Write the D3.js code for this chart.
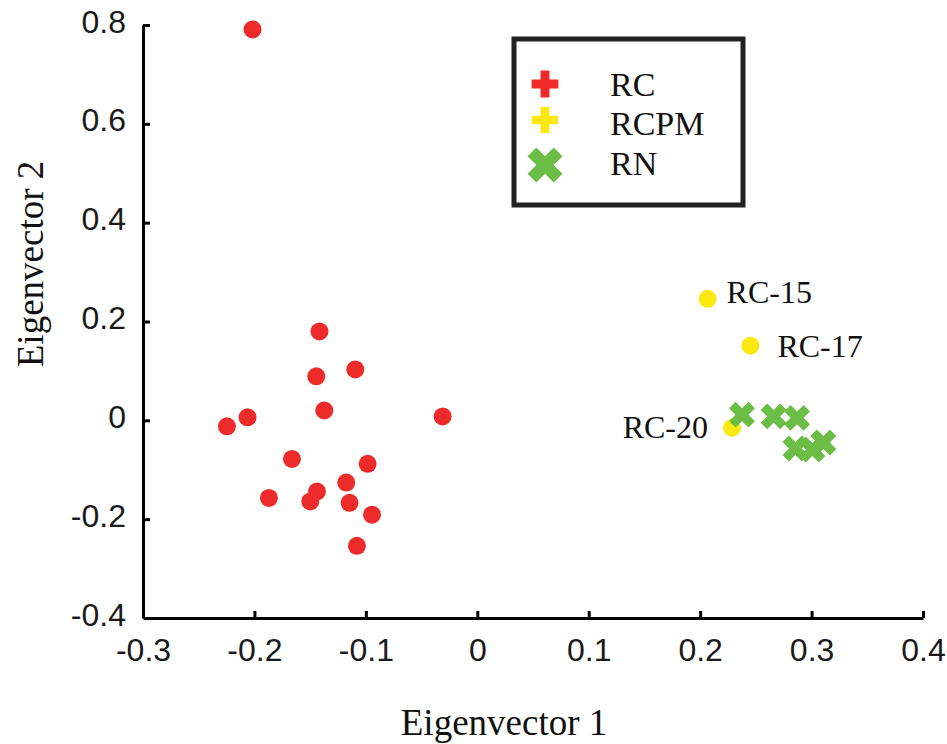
<!DOCTYPE html>
<html>
<head>
<meta charset="utf-8">
<script src="https://cdn.jsdelivr.net/npm/d3@7"></script>
<style>
  body { margin: 0; background: #fff; }
  .tick text { font-family: "Liberation Sans", Arial, sans-serif; font-size: 32px; fill: #1a1a1a; }
  .serif { font-family: "Liberation Serif", "Times New Roman", serif; fill: #111; }
</style>
</head>
<body>
<div id="chart"></div>
<script>
// scores on the first two eigenvectors
var rcX = [-0.2017, -0.1416, -0.1095, -0.1445, -0.1373, -0.0311, -0.2062, -0.2247, -0.1663,
           -0.0984, -0.1176, -0.1439, -0.1499, -0.187, -0.1146, -0.0945, -0.108];
var rcY = [0.791, 0.180, 0.103, 0.089, 0.020, 0.008, 0.006, -0.012, -0.078,
           -0.088, -0.126, -0.144, -0.164, -0.157, -0.167, -0.191, -0.254];
var rcpmNames = ["RC-15", "RC-17", "RC-20"];
var rcpmX = [0.2067, 0.2451, 0.2286];
var rcpmY = [0.246, 0.151, -0.015];
var rnX = [0.2376, 0.266, 0.287, 0.2855, 0.3007, 0.3106];
var rnY = [0.0115, 0.008, 0.005, -0.057, -0.059, -0.045];

var xTicks = [-0.3, -0.2, -0.1, 0, 0.1, 0.2, 0.3, 0.4];
var yTicks = [-0.4, -0.2, 0, 0.2, 0.4, 0.6, 0.8];
var legendNames = ["RC", "RCPM", "RN"];

var svgWidth = 947;
var svgHeight = 744;
var margin = { top: 25, right: 24, bottom: 126, left: 143 };
var width = svgWidth - margin.left - margin.right;
var height = svgHeight - margin.top - margin.bottom;

var red = "#ee2b2b", yellow = "#fde812", green = "#6bbd45";

var svg = d3.select("#chart")
    .append("svg")
    .attr("width", svgWidth)
    .attr("height", svgHeight);

var chartGroup = svg.append("g")
    .attr("transform", `translate(${margin.left},${margin.top})`);

var xScale = d3.scaleLinear().domain([-0.3, 0.4]).range([0, width]);
var yScale = d3.scaleLinear().domain([-0.4, 0.8]).range([height, 0]);

function fmt(d) { return d === 0 ? "0" : String(d); }

var bottomAxis = d3.axisBottom(xScale).tickValues(xTicks).tickFormat(fmt)
    .tickSizeInner(-7).tickSizeOuter(0).tickPadding(20);
var leftAxis = d3.axisLeft(yScale).tickValues(yTicks).tickFormat(fmt)
    .tickSizeInner(-7).tickSizeOuter(0).tickPadding(17);

var xAxis = chartGroup.append("g")
    .attr("transform", `translate(0,${height})`)
    .call(bottomAxis);
xAxis.selectAll("text").attr("dy", "0.71em");

var yAxis = chartGroup.append("g").call(leftAxis);
yAxis.selectAll("text").attr("dy", "0.22em");

chartGroup.selectAll(".domain, .tick line")
    .attr("stroke", "#000")
    .attr("stroke-width", 3);
// the corner ticks sit on the other axis
xAxis.selectAll(".tick").filter(d => d === -0.3).select("line").remove();
yAxis.selectAll(".tick").filter(d => d === -0.4).select("line").remove();

// RC points
chartGroup.selectAll(".rc")
    .data(d3.range(rcX.length))
    .enter()
    .append("circle")
    .attr("cx", i => xScale(rcX[i]))
    .attr("cy", i => yScale(rcY[i]))
    .attr("r", 9)
    .attr("fill", red);

// RCPM points
chartGroup.selectAll(".rcpm")
    .data(d3.range(rcpmX.length))
    .enter()
    .append("circle")
    .attr("cx", i => xScale(rcpmX[i]))
    .attr("cy", i => yScale(rcpmY[i]))
    .attr("r", 9)
    .attr("fill", yellow);

// RN points
var xMark = d3.symbol().type(d3.symbolCross).size(420);
chartGroup.selectAll(".rn")
    .data(d3.range(rnX.length))
    .enter()
    .append("path")
    .attr("d", xMark)
    .attr("transform", i => `translate(${xScale(rnX[i])},${yScale(rnY[i])}) rotate(45)`)
    .attr("fill", green);

// point labels
var labelOffset = { "RC-15": [19, 4, "start"], "RC-17": [27, 11, "start"], "RC-20": [-24, 10, "end"] };
chartGroup.selectAll(".plabel")
    .data(d3.range(rcpmNames.length))
    .enter()
    .append("text")
    .classed("serif", true)
    .attr("x", i => xScale(rcpmX[i]) + labelOffset[rcpmNames[i]][0])
    .attr("y", i => yScale(rcpmY[i]) + labelOffset[rcpmNames[i]][1])
    .attr("text-anchor", i => labelOffset[rcpmNames[i]][2])
    .style("font-size", "32px")
    .text(i => rcpmNames[i]);

// legend
var legend = svg.append("g");
legend.append("rect")
    .attr("x", 514).attr("y", 39)
    .attr("width", 229).attr("height", 166)
    .attr("fill", "none")
    .attr("stroke", "#222")
    .attr("stroke-width", 5);

var legendMarks = [
    { color: red, size: 400, rot: 0, y: 84, ty: 96 },
    { color: yellow, size: 380, rot: 0, y: 120, ty: 135 },
    { color: green, size: 760, rot: 45, y: 165, ty: 175 }
];
legendNames.forEach(function(name, i) {
    var m = legendMarks[i];
    legend.append("path")
        .attr("d", d3.symbol().type(d3.symbolCross).size(m.size))
        .attr("transform", `translate(545,${m.y}) rotate(${m.rot})`)
        .attr("fill", m.color);
    legend.append("text")
        .classed("serif", true)
        .attr("x", 610)
        .attr("y", m.ty)
        .style("font-size", "34px")
        .text(name);
});

// axis titles
svg.append("text")
    .classed("serif", true)
    .attr("x", 504)
    .attr("y", 735)
    .attr("text-anchor", "middle")
    .style("font-size", "37px")
    .text("Eigenvector 1");

svg.append("text")
    .classed("serif", true)
    .attr("transform", "translate(43,264) rotate(-90)")
    .attr("text-anchor", "middle")
    .style("font-size", "37px")
    .text("Eigenvector 2");
</script>
</body>
</html>
